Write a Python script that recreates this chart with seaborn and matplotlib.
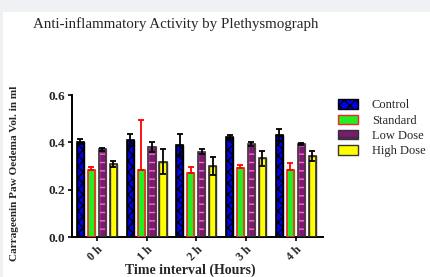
import numpy as np
import pandas as pd
import seaborn as sns
import matplotlib.pyplot as plt
from matplotlib.patches import Rectangle

# data
times = ['0 h', '1 h', '2 h', '3 h', '4 h']
groups = ['Control', 'Standard', 'Low Dose', 'High Dose']
control = [0.403, 0.410, 0.389, 0.421, 0.430]
standard = [0.283, 0.283, 0.272, 0.290, 0.283]
low_dose = [0.370, 0.380, 0.360, 0.393, 0.393]
high_dose = [0.308, 0.318, 0.300, 0.332, 0.342]
control_err = [0.010, 0.024, 0.045, 0.012, 0.025]
standard_err = [0.011, 0.210, 0.022, 0.013, 0.031]
low_dose_err = [0.005, 0.020, 0.010, 0.010, 0.005]
high_dose_err = [0.012, 0.053, 0.040, 0.032, 0.022]

means = [control, standard, low_dose, high_dose]
errs = [control_err, standard_err, low_dose_err, high_dose_err]
upper_only = [False, True, False, False]

df = pd.DataFrame({
    'time': np.tile(times, len(groups)),
    'group': np.repeat(groups, len(times)),
    'value': np.concatenate(means),
})

face = ['#0000ee', '#22ee22', '#7a1a70', '#ffff00']
edge = ['black', '#ff2222', '#333333', '#333333']
hatch = ['xxx', '', '--', '']
hatch_col = ['black', '#22ee22', '#ff66cc', '#333333']
err_col = ['black', '#ff0000', 'black', 'black']

sns.set_style('white')
plt.rcParams['font.family'] = ['Liberation Serif', 'DejaVu Serif']
plt.rcParams['hatch.linewidth'] = 1.0

fig = plt.figure(figsize=(4.30, 2.77), dpi=100)
fig.patch.set_facecolor('#eff1f4')
fig.patches.append(Rectangle((3 / 430, 0), 1, 1 - 12 / 277, transform=fig.transFigure,
                             facecolor='white', edgecolor='none', zorder=-10))
ax = fig.add_axes([72 / 430, 1 - 237 / 277, 251 / 430, 142 / 277])
ax.set_facecolor('none')

sns.barplot(data=df, x='time', y='value', hue='group', order=times, hue_order=groups,
            palette=face, width=0.88, gap=0.35, errorbar=None, ax=ax, legend=True)

# style bars and add the error bars at each bar's centre
bar_conts = list(ax.containers)
for i, cont in enumerate(bar_conts):
    xs, ys = [], []
    for bar in cont.patches:
        bar.set_facecolor(face[i])
        bar.set_hatch(hatch[i])
        bar.set_linewidth(1.0)
        # hatch is drawn in the edge colour, so draw the outline separately
        bar.set_edgecolor(hatch_col[i])
        ax.add_patch(Rectangle(bar.get_xy(), bar.get_width(), bar.get_height(),
                               fill=False, edgecolor=edge[i], linewidth=1.2, zorder=3))
        xs.append(bar.get_x() + bar.get_width() / 2)
        ys.append(bar.get_height())
    e = np.array(errs[i])
    yerr = [np.zeros_like(e), e] if upper_only[i] else e
    ax.errorbar(xs, ys, yerr=yerr, fmt='none', ecolor=err_col[i],
                elinewidth=1.3, capsize=2.5, capthick=1.3, zorder=4)

ax.set_xlim(-0.5, 4.55)
ax.set_ylim(0, 0.6)
ax.set_yticks([0.0, 0.2, 0.4, 0.6])
ax.set_yticklabels(['0.0', '0.2', '0.4', '0.6'], fontweight='bold', fontsize=9.5)
ax.set_xticks(range(len(times)))
ax.set_xticklabels(times, rotation=45, fontweight='bold', fontsize=8.5, ha='right',
                   rotation_mode='anchor')
ax.tick_params(axis='both', direction='out', length=3, width=1.2, color='black', pad=2)
ax.tick_params(axis='y', left=True)
ax.tick_params(axis='x', bottom=True)

sns.despine(ax=ax)
for s in ['left', 'bottom']:
    ax.spines[s].set_color('black')
    ax.spines[s].set_linewidth(1.4)

ax.set_xlabel('')
ax.set_ylabel('')
fig.text(190 / 430, 1 - 270 / 277, 'Time interval (Hours)', ha='center', va='center',
         fontweight='bold', fontsize=10)
fig.text(15 / 430, 1 - 173 / 277, 'Carrageenin Paw Oedema Vol. in ml', rotation=90,
         ha='center', va='center', fontweight='bold', fontsize=8.1)
fig.text(33 / 430, 1 - 24 / 277, 'Anti-inflammatory Activity by Plethysmograph',
         ha='left', va='center', fontsize=10.8)

handles, labels = ax.get_legend_handles_labels()
ax.get_legend().remove()
for i, h in enumerate(handles):
    h.set_facecolor(face[i])
    h.set_edgecolor(edge[i])
    h.set_hatch(hatch[i])
leg = fig.legend(handles, labels, loc='upper left', bbox_to_anchor=(327 / 430, 1 - 88 / 277),
                 frameon=False, fontsize=9, handlelength=1.6, handleheight=0.8,
                 labelspacing=0.25, handletextpad=1.1)

fig.savefig('out.png', dpi=100)
